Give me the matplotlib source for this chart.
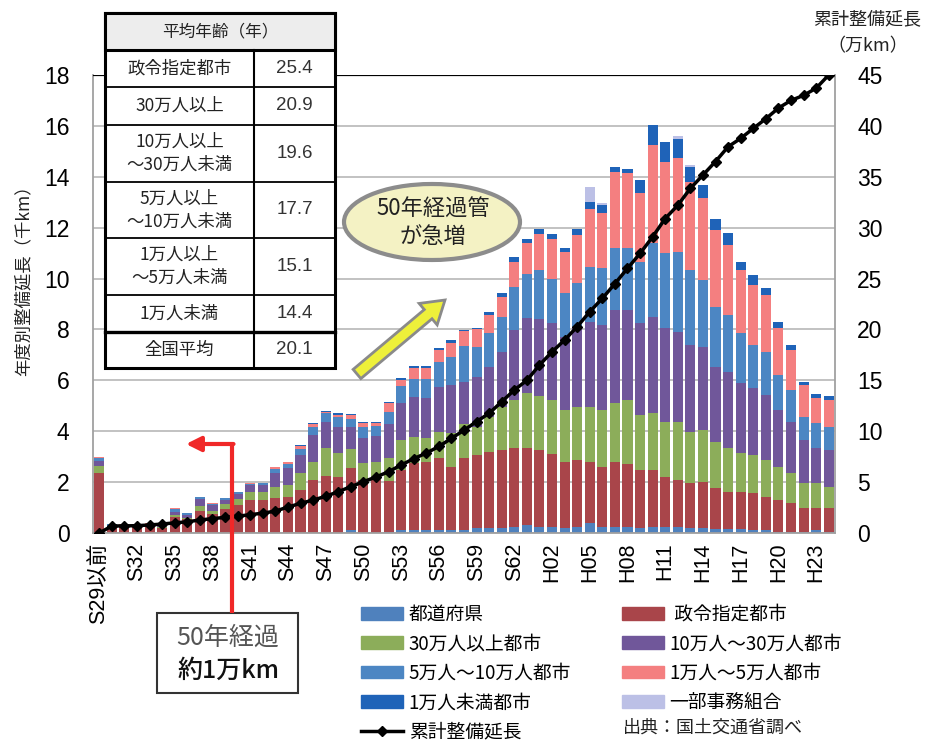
import numpy as np
import matplotlib
matplotlib.use("Agg")
import matplotlib.pyplot as plt
from matplotlib.patches import Rectangle, Ellipse, FancyArrow, Patch
from matplotlib.lines import Line2D

plt.rcParams['font.family'] = ['Noto Sans CJK JP', 'DejaVu Sans']

# ---- data (千km per year, stacked) ----
years = (['S29以前'] + ['S%d' % y for y in range(30, 64)]
         + ['H%02d' % y for y in range(1, 25)])

pref = [0, 0, 0, 0, 0, 0, 0, 0, 0, 0, 0, 0, 0, 0, 0, 0, 0, 0, 0, 0,
        0.1, 0, 0, 0.05, 0.1, 0.1, 0.1, 0.1, 0.12, 0.12, 0.18, 0.18, 0.2, 0.25, 0.3, 0.25, 0.25, 0.2, 0.25, 0.38,
        0.25, 0.25, 0.25, 0.2, 0.25, 0.25, 0.25, 0.2, 0.2, 0.15, 0.15, 0.15, 0.12, 0.1, 0.05, 0.05, 0.05, 0.1, 0.05]
seirei = [2.36, 0.2, 0.3, 0.3, 0.3, 0.2, 0.62, 0.55, 0.88, 0.75, 0.95, 1.1, 1.3, 1.3, 1.37, 1.42, 1.69, 2.08, 2.24, 2.21,
          2.44, 2.08, 2.1, 1.98, 2.38, 2.64, 2.7, 2.83, 2.49, 2.81, 2.88, 3.02, 3.06, 3.08, 3.03, 3.01, 2.85, 2.6, 2.61, 2.42,
          2.33, 2.55, 2.45, 2.27, 2.22, 1.96, 1.83, 1.75, 1.82, 1.6, 1.47, 1.47, 1.44, 1.33, 1.25, 1.12, 0.92, 0.87, 0.92]
over30 = [0.27, 0, 0, 0.02, 0.02, 0.02, 0.1, 0.05, 0.2, 0.12, 0.2, 0.22, 0.32, 0.3, 0.44, 0.47, 0.66, 0.72, 1.1, 0.92,
          0.75, 0.66, 0.7, 0.9, 1.18, 1.05, 0.92, 1.05, 1.31, 1.37, 1.12, 1.37, 1.7, 1.9, 2.16, 2.12, 2.13, 2.03, 2.1, 2.16,
          2.25, 2.3, 2.53, 2.16, 2.23, 2.16, 2.29, 2.03, 2.03, 1.84, 1.71, 1.51, 1.51, 1.44, 1.3, 1.19, 0.98, 0.98, 0.85]
p10_30 = [0.2, 0.05, 0, 0.03, 0.03, 0.05, 0.12, 0.1, 0.24, 0.22, 0.15, 0.2, 0.27, 0.3, 0.54, 0.66, 0.71, 1.05, 1.03, 1.05,
          0.88, 0.98, 1.0, 1.37, 1.43, 1.56, 1.57, 1.77, 1.9, 1.65, 1.96, 1.97, 2.16, 2.75, 2.95, 3.02, 3.01, 2.88, 3.14, 3.34,
          3.34, 3.66, 3.53, 3.61, 3.8, 3.67, 3.54, 3.41, 3.27, 2.95, 3.01, 2.75, 2.61, 2.55, 2.23, 2.01, 1.7, 1.38, 1.44]
p5_10 = [0.12, 0.1, 0, 0, 0.01, 0.13, 0.1, 0.07, 0.08, 0.06, 0.06, 0.08, 0.05, 0.05, 0.15, 0.15, 0.24, 0.3, 0.33, 0.39,
         0.33, 0.46, 0.4, 0.46, 0.67, 0.72, 0.78, 0.98, 1.11, 1.38, 1.18, 1.31, 1.37, 1.7, 1.74, 1.93, 1.76, 1.71, 1.71, 2.14,
         2.23, 2.43, 2.43, 2.42, 2.88, 2.95, 3.15, 2.94, 2.62, 2.35, 2.23, 1.97, 1.71, 1.71, 1.38, 1.25, 0.92, 0.99, 0.92]
p1_5 = [0.05, 0, 0.05, 0.02, 0.02, 0, 0.06, 0.03, 0.03, 0.02, 0.02, 0.03, 0.03, 0.02, 0.1, 0.1, 0.12, 0.13, 0.06, 0.08,
        0.12, 0.15, 0.13, 0.33, 0.26, 0.4, 0.4, 0.46, 0.53, 0.59, 0.7, 0.72, 0.8, 0.98, 1.2, 1.42, 1.55, 1.63, 1.9, 2.28,
        2.16, 3.01, 2.95, 2.69, 3.87, 3.6, 3.66, 3.47, 3.21, 3.01, 2.75, 2.48, 2.35, 2.22, 1.83, 1.57, 1.25, 0.97, 1.06]
under1 = [0, 0, 0, 0, 0, 0, 0, 0, 0, 0, 0, 0, 0, 0, 0, 0, 0.04, 0.05, 0.04, 0.05,
          0.05, 0.04, 0.04, 0.06, 0.08, 0.08, 0.08, 0.07, 0.14, 0.06, 0.05, 0.13, 0.13, 0.17, 0.17, 0.19, 0.2, 0.15, 0.23, 0.3,
          0.34, 0.2, 0.16, 0.52, 0.78, 0.78, 0.75, 0.6, 0.53, 0.46, 0.48, 0.33, 0.4, 0.26, 0.26, 0.2, 0.13, 0.17, 0.13]
kumiai = [0] * 39 + [0.58, 0.05, 0, 0, 0, 0, 0, 0.13, 0.05] + [0] * 11

# 累計整備延長 (万km)
cumulative = [0, 0.69, 0.7, 0.72, 0.79, 0.88, 1.0, 1.1, 1.28, 1.41, 1.54, 1.65, 1.8, 1.95, 2.15, 2.55, 2.91, 3.24, 3.6, 4.06,
              4.55, 5.04, 5.5, 6.02, 6.68, 7.3, 7.85, 8.5, 9.3, 10.1, 10.95, 11.76, 12.9, 14.05, 15.0, 16.5, 17.8, 18.96, 20.27, 21.74,
              23.05, 24.5, 26.0, 27.47, 29.1, 30.9, 32.2, 33.86, 35.17, 36.5, 37.95, 38.77, 39.75, 40.7, 41.75, 42.5, 43.0, 43.7, 45.0]

series = [
    ('都道府県', pref, '#4F81BD'),
    (' 政令指定都市', seirei, '#A9454A'),
    ('30万人以上都市', over30, '#8CAD5A'),
    ('10万人～30万人都市', p10_30, '#70579A'),
    ('5万人～10万人都市', p5_10, '#4C86C3'),
    ('1万人～5万人都市', p1_5, '#F47F80'),
    ('1万人未満都市', under1, '#1F63B8'),
    ('一部事務組合', kumiai, '#BCC0E6'),
]

table_rows = ['政令指定都市', '30万人以上', '10万人以上\n～30万人未満', '5万人以上\n～10万人未満',
              '1万人以上\n～5万人未満', '1万人未満', '全国平均']
table_vals = ['25.4', '20.9', '19.6', '17.7', '15.1', '14.4', '20.1']

# ---- figure ----
fig = plt.figure(figsize=(9.31, 7.43), dpi=100)
ax = fig.add_axes([93 / 931, 1 - 533 / 743, 742 / 931, 458 / 743])

x = np.arange(len(years))
bottom = np.zeros(len(years))
for name, vals, col in series:
    ax.bar(x, vals, bottom=bottom, width=0.8, color=col, linewidth=0, zorder=2)
    bottom += np.array(vals)

ax.set_xlim(-0.5, len(years) - 0.5)
ax.set_ylim(0, 18)
ax.set_yticks(range(0, 19, 2))
ax.yaxis.grid(True, color='#BDBDBD', lw=1.3, zorder=0)
ax.set_axisbelow(True)
ax.axhline(18, color='black', lw=1.6, zorder=3)
for s in ['left', 'bottom', 'right']:
    ax.spines[s].set_color('#A0A0A0')
    ax.spines[s].set_linewidth(1.3)
ax.spines['top'].set_visible(False)

tick_font = ['Liberation Sans', 'Noto Sans CJK JP']
ax.set_xticks(x[::3])
ax.set_xticklabels(years[::3], rotation=90, fontsize=15.5, family=tick_font)
ax.tick_params(axis='x', length=0, pad=7)
ax.tick_params(axis='y', length=0, pad=17)
for lab in ax.get_yticklabels():
    lab.set_fontsize(16.5)
    lab.set_family(tick_font)

ax2 = ax.twinx()
ax2.plot(x, cumulative, color='black', lw=2.5, marker='D', markersize=5, zorder=5)
ax2.set_ylim(0, 45)
ax2.set_yticks(range(0, 46, 5))
ax2.tick_params(axis='y', length=0, pad=16)
for lab in ax2.get_yticklabels():
    lab.set_fontsize(16.5)
    lab.set_family(tick_font)
for s in ax2.spines.values():
    s.set_visible(False)

fig.text(23 / 931, 1 - 276 / 743, '年度別整備延長（千km）', rotation=90, ha='center', va='center',
         fontsize=12.5, color='#222222')
fig.text(867 / 931, 1 - 19 / 743, '累計整備延長', ha='center', va='center', fontsize=13, color='#222222')
fig.text(868 / 931, 1 - 46 / 743, '（万km）', ha='center', va='center', fontsize=13, color='#222222')

# ---- overlay (pixel coordinates) ----
ov = fig.add_axes([0, 0, 1, 1], zorder=10)
ov.set_xlim(0, 931)
ov.set_ylim(743, 0)
ov.axis('off')
ov.patch.set_alpha(0)

# table
tl, tm, tr = 105, 254, 335
edges = [13, 50, 87, 125, 182, 238, 295, 332, 368]
ov.add_patch(Rectangle((tl, edges[0]), tr - tl, edges[-1] - edges[0], fc='white', ec='black', lw=2.2))
ov.add_patch(Rectangle((tl, edges[0]), tr - tl, edges[1] - edges[0], fc='#EDEDED', ec='black', lw=2.2))
ov.text((tl + tr) / 2, (edges[0] + edges[1]) / 2, '平均年齢（年）', ha='center', va='center', fontsize=12,
        color='#222222')
ov.plot([tm, tm], [edges[1], edges[-1]], color='black', lw=1.5)
for i, (lab, val) in enumerate(zip(table_rows, table_vals)):
    y0, y1 = edges[i + 1], edges[i + 2]
    if i < len(table_rows) - 1:
        ov.plot([tl, tr], [y1, y1], color='black', lw=2.4 if i == len(table_rows) - 2 else 1.3)
    ov.text((tl + tm) / 2, (y0 + y1) / 2, lab, ha='center', va='center', fontsize=12.5, linespacing=1.35,
            color='#222222')
    ov.text((tm + tr) / 2, (y0 + y1) / 2, val, ha='center', va='center', fontsize=13.5,
            family=tick_font, color='#333333')

# callout ellipse and yellow arrow
ov.add_patch(Ellipse((432, 222), 176, 76, fc='#F4F2C4', ec='#8C8C8C', lw=3))
ov.text(433, 223, '50年経過管\nが急増', ha='center', va='center', fontsize=16, linespacing=1.25, color='#222222')
ov.add_patch(FancyArrow(357, 374, 88, -74, width=12, head_width=28, head_length=22,
                        length_includes_head=True, fc='#EEF03A', ec='#8A8A8A', lw=2))

# red pointer and box
ov.plot([232, 232], [613, 444], color='#F02828', lw=3, solid_capstyle='butt')
ov.annotate('', xy=(186, 444), xytext=(233.5, 444),
            arrowprops=dict(arrowstyle='-|>', color='#F02828', lw=3, mutation_scale=22, shrinkA=0, shrinkB=0))
ov.add_patch(Rectangle((157, 613), 141, 80, fc='white', ec='#333333', lw=1.5))
ov.text(228, 638, '50年経過', ha='center', va='center', fontsize=18, color='#555555')
ov.text(228, 671, '約1万km', ha='center', va='center', fontsize=18, color='#111111', fontweight='medium')

# legend
handles = [Patch(color=c) for _, _, c in series]
labels = [n for n, _, _ in series]
line_h = Line2D([], [], color='black', lw=2.5, marker='D', markersize=5)
order_h = [handles[0], handles[2], handles[4], handles[6], line_h,
           handles[1], handles[3], handles[5], handles[7]]
order_l = [labels[0], labels[2], labels[4], labels[6], '累計整備延長',
           labels[1], labels[3], labels[5], labels[7]]
fig.legend(order_h, order_l, loc='upper left', bbox_to_anchor=(344 / 931, 1 - 587 / 743), ncol=2,
           fontsize=13.5, frameon=False, handlelength=2.25, handleheight=0.65, labelspacing=0.45,
           columnspacing=2.7, handletextpad=0.3)
ov.text(623, 719, '出典：国土交通省調べ', ha='left', va='top', fontsize=13, color='#222222')

fig.savefig('out.png', dpi=100)
